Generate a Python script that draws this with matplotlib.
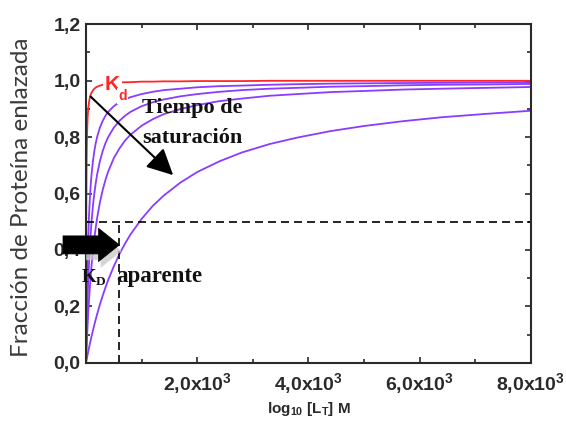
import matplotlib
matplotlib.use("Agg")
import matplotlib.pyplot as plt
from matplotlib.ticker import MultipleLocator, FixedLocator, FixedFormatter

plt.rcParams["mathtext.fontset"] = "custom"
plt.rcParams["mathtext.rm"] = "Liberation Sans:bold"
plt.rcParams["mathtext.it"] = "Liberation Sans:bold"
plt.rcParams["mathtext.bf"] = "Liberation Sans:bold"

# Ligand concentration [L_T] (M) sampled along the curves
ligando = [0, 2, 5, 10, 15, 20, 30, 40, 55, 70, 85, 100, 125, 150, 175, 200,
           250, 300, 350, 400, 500, 600, 700, 800, 1000, 1200, 1400, 1700,
           2000, 2400, 2800, 3300, 3800, 4400, 5000, 5700, 6400, 7200, 8000]

# True equilibrium curve (red)
fraccion_kd = [0.000, 0.308, 0.526, 0.690, 0.769, 0.816, 0.870, 0.899, 0.924,
               0.940, 0.950, 0.957, 0.965, 0.971, 0.975, 0.978, 0.982, 0.985,
               0.987, 0.989, 0.991, 0.993, 0.994, 0.994, 0.996, 0.996, 0.997,
               0.997, 0.998, 0.998, 0.998, 0.999, 0.999, 0.999, 0.999, 0.999,
               0.999, 0.999, 0.999]

# Curves for decreasing incubation times (purple)
fraccion_t1 = [0.000, 0.038, 0.091, 0.167, 0.231, 0.286, 0.375, 0.444, 0.524,
               0.583, 0.630, 0.667, 0.714, 0.750, 0.778, 0.800, 0.833, 0.857,
               0.875, 0.889, 0.909, 0.923, 0.933, 0.941, 0.952, 0.960, 0.966,
               0.971, 0.976, 0.980, 0.982, 0.985, 0.987, 0.989, 0.990, 0.991,
               0.992, 0.993, 0.994]
fraccion_t2 = [0.000, 0.020, 0.048, 0.091, 0.130, 0.167, 0.231, 0.286, 0.355,
               0.412, 0.459, 0.500, 0.556, 0.600, 0.636, 0.667, 0.714, 0.750,
               0.778, 0.800, 0.833, 0.857, 0.875, 0.889, 0.909, 0.923, 0.933,
               0.944, 0.952, 0.960, 0.966, 0.971, 0.974, 0.978, 0.980, 0.983,
               0.985, 0.986, 0.988]
fraccion_t3 = [0.000, 0.010, 0.026, 0.050, 0.073, 0.095, 0.136, 0.174, 0.224,
               0.269, 0.309, 0.345, 0.397, 0.441, 0.479, 0.513, 0.568, 0.612,
               0.648, 0.678, 0.725, 0.759, 0.787, 0.808, 0.840, 0.863, 0.881,
               0.899, 0.913, 0.927, 0.936, 0.946, 0.952, 0.959, 0.963, 0.968,
               0.971, 0.974, 0.977]
fraccion_t4 = [0.000, 0.002, 0.005, 0.010, 0.015, 0.020, 0.030, 0.040, 0.054,
               0.068, 0.081, 0.094, 0.115, 0.135, 0.154, 0.172, 0.207, 0.238,
               0.267, 0.294, 0.342, 0.385, 0.422, 0.455, 0.510, 0.556, 0.593,
               0.639, 0.676, 0.714, 0.745, 0.775, 0.798, 0.821, 0.839, 0.856,
               0.870, 0.882, 0.893]

kd_aparente = 600
fraccion_media = 0.5
nivel_flecha = 0.418

x_ticks = [2000, 4000, 6000, 8000]
x_ticklabels = [r"2,0x10$^3$", r"4,0x10$^3$", r"6,0x10$^3$", r"8,0x10$^3$"]
y_ticks = [0.0, 0.2, 0.4, 0.6, 0.8, 1.0, 1.2]
y_ticklabels = ["0,0", "0,2", "0,4", "0,6", "0,8", "1,0", "1,2"]

RED = "#ff2626"
PURPLE = "#8a3cff"
AXC = "#2a2a2a"

fig = plt.figure(figsize=(5.66, 4.25), dpi=100)
ax = fig.add_axes([0.1519, 0.1459, 0.7862, 0.7976])

for serie in (fraccion_t4, fraccion_t3, fraccion_t2, fraccion_t1):
    ax.plot(ligando, serie, color=PURPLE, lw=1.3, zorder=2)
ax.plot(ligando, fraccion_kd, color=RED, lw=1.3, zorder=2.1)

# half-saturation guides
ax.plot([0, 8000], [fraccion_media, fraccion_media], color="black", lw=1.2,
        dashes=(4.8, 3), zorder=2.5)
ax.plot([kd_aparente, kd_aparente], [0, fraccion_media], color="black", lw=1.2,
        dashes=(4.8, 3), zorder=2.5)

ax.set_xlim(0, 8000)
ax.set_ylim(0, 1.2)
ax.xaxis.set_major_locator(FixedLocator(x_ticks))
ax.xaxis.set_major_formatter(FixedFormatter(x_ticklabels))
ax.xaxis.set_minor_locator(MultipleLocator(1000))
ax.yaxis.set_major_locator(FixedLocator(y_ticks))
ax.yaxis.set_major_formatter(FixedFormatter(y_ticklabels))
ax.yaxis.set_minor_locator(MultipleLocator(0.1))

for s in ax.spines.values():
    s.set_linewidth(1.5)
    s.set_color(AXC)
ax.tick_params(which="both", direction="in", top=True, right=True,
               color=AXC, width=1.2)
ax.tick_params(which="major", length=4.5)
ax.tick_params(which="minor", length=3)
ax.tick_params(axis="x", pad=6)
ax.tick_params(axis="y", pad=4)
for lab in ax.get_xticklabels() + ax.get_yticklabels():
    lab.set_fontfamily("Liberation Sans")
    lab.set_fontweight("bold")
    lab.set_fontsize(14)
    lab.set_color(AXC)

ax.set_xlabel(r"log$_{10}$ [L$_T$] M", fontsize=11, color=AXC,
              fontfamily="Liberation Sans", fontweight="bold", labelpad=3)
ax.set_ylabel("Fracción de Proteína enlazada", fontsize=17.5, color="#3a3a3a",
              fontfamily="Lato")
ax.yaxis.set_label_coords(-0.121, 0.49)

# Kd label on the equilibrium curve
ax.text(341, 0.966, "K", color=RED, fontsize=15, fontfamily="Liberation Sans",
        fontweight="bold", va="baseline",
        bbox=dict(fc="white", ec="none", pad=1.5), zorder=4)
ax.text(574, 0.931, "d", color=RED, fontsize=10, fontfamily="Liberation Sans",
        fontweight="bold", va="baseline",
        bbox=dict(fc="white", ec="none", pad=1.0), zorder=4)

# saturation-time arrow
ax.annotate("", xy=(1567, 0.665), xytext=(84, 0.943),
            arrowprops=dict(arrowstyle="-|>,head_length=0.8,head_width=0.4",
                            mutation_scale=20, color="black", lw=1.5,
                            shrinkA=0, shrinkB=0), zorder=5)
ax.text(1005, 0.885, "Tiempo de", fontsize=16, fontfamily="Liberation Serif",
        fontweight="bold", va="baseline", color="#111111", zorder=4)
ax.text(1005, 0.779, "saturación", fontsize=16, fontfamily="Liberation Serif",
        fontweight="bold", va="baseline", color="#111111", zorder=4)

# apparent KD arrow with soft shadow under the head
arrow_style = "simple,head_length=15,head_width=24,tail_width=13"
ax.annotate("", xy=(kd_aparente + 40, nivel_flecha - 0.022),
            xytext=(0, nivel_flecha - 0.022),
            arrowprops=dict(arrowstyle=arrow_style, mutation_scale=1,
                            fc="#c8c8c8", ec="none", alpha=0.75,
                            shrinkA=0, shrinkB=0),
            annotation_clip=False, zorder=5)
ax.annotate("", xy=(kd_aparente, nivel_flecha), xytext=(-413, nivel_flecha),
            arrowprops=dict(arrowstyle=arrow_style, mutation_scale=1,
                            fc="black", ec="black", lw=0.5,
                            shrinkA=0, shrinkB=0),
            annotation_clip=False, zorder=6)

ax.text(-77, 0.288, "K", fontsize=13.5, fontfamily="Liberation Serif",
        fontweight="bold", va="baseline", color="#111111", zorder=4)
ax.text(180, 0.275, "D", fontsize=9.5, fontfamily="Liberation Serif",
        fontweight="bold", va="baseline", color="#111111", zorder=4)
ax.text(551, 0.288, "aparente", fontsize=16.5, fontfamily="Liberation Serif",
        fontweight="bold", va="baseline", color="#111111", zorder=4)

fig.savefig("out.png", dpi=100)
